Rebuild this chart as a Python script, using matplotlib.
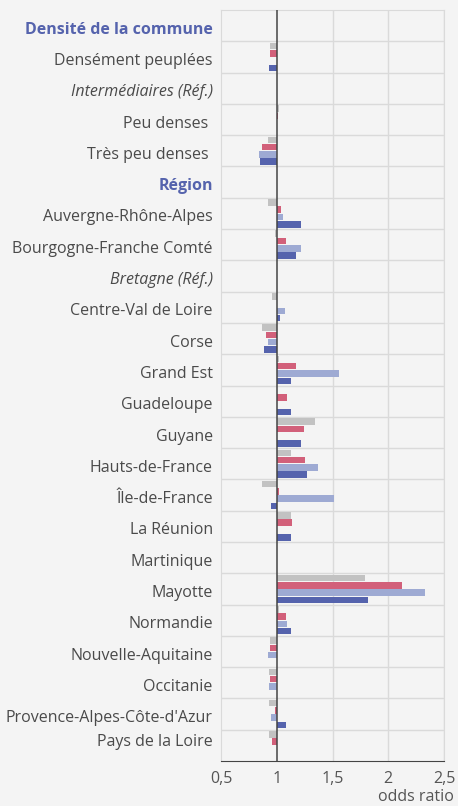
import matplotlib.pyplot as plt
import matplotlib.transforms as mtransforms
import numpy as np

# Catégories (de haut en bas)
categories = [
    "Densité de la commune", "Densément peuplées", "Intermédiaires (Réf.)",
    "Peu denses ", "Très peu denses ", "Région",
    "Auvergne-Rhône-Alpes", "Bourgogne-Franche Comté", "Bretagne (Réf.)",
    "Centre-Val de Loire", "Corse", "Grand Est", "Guadeloupe", "Guyane",
    "Hauts-de-France", "Île-de-France", "La Réunion", "Martinique", "Mayotte",
    "Normandie", "Nouvelle-Aquitaine", "Occitanie",
    "Provence-Alpes-Côte-d'Azur", "Pays de la Loire",
]
headers = ["Densité de la commune", "Région"]
references = ["Intermédiaires (Réf.)", "Bretagne (Réf.)"]

# odds ratios par série (None = pas de barre)
serie_gris = [None, 0.94, None, 1.02, 0.92, None,
              0.92, 0.98, None, 0.96, 0.87, 1.02, None, 1.34,
              1.13, 0.87, 1.13, None, 1.79,
              1.02, 0.94, 0.93, 0.93, 0.93]
serie_rouge = [None, 0.94, None, 1.01, 0.87, None,
               1.04, 1.08, None, None, 0.90, 1.17, 1.09, 1.24,
               1.25, 1.02, 1.14, None, 2.12,
               1.08, 0.94, 0.94, 0.98, 0.96]
serie_bleu_clair = [None, None, None, None, 0.84, None,
                    1.06, 1.22, None, 1.07, 0.92, 1.56, None, None,
                    1.37, 1.51, None, None, 2.33,
                    1.09, 0.92, 0.93, 0.95, None]
serie_bleu = [None, 0.93, None, None, 0.85, None,
              1.22, 1.17, None, 1.03, 0.89, 1.13, 1.13, 1.22,
              1.27, 0.95, 1.13, None, 1.82,
              1.13, None, None, 1.08, None]

series = [serie_gris, serie_rouge, serie_bleu_clair, serie_bleu]
couleurs = ["#c2c2c2", "#d2607a", "#9eaad3", "#5563ad"]

plt.rcParams['font.family'] = ['Open Sans', 'DejaVu Sans']
bg = "#f4f4f4"

fig = plt.figure(figsize=(4.58, 8.06), dpi=100, facecolor=bg)
ax = fig.add_axes([221 / 458, 45 / 806, 223 / 458, 751 / 806], facecolor=bg)

y = np.arange(len(categories))
pas = 0.233
hauteur = 0.21
for k, (vals, c) in enumerate(zip(series, couleurs)):
    for i, v in enumerate(vals):
        if v is None:
            continue
        ax.barh(i + (k - 1.5) * pas, v - 1, left=1, height=hauteur,
                color=c, linewidth=0, zorder=3)

ax.set_xlim(0.5, 2.5)
ax.set_ylim(len(categories) - 0.5, -0.5)

# grille
for b in np.arange(0.5, len(categories) - 0.5, 1):
    ax.axhline(b, color="#dadada", lw=1, zorder=1)
for xv in [1.5, 2, 2.5]:
    ax.axvline(xv, color="#dadada", lw=1, zorder=1)
ax.axvline(1, color="#444444", lw=1.1, zorder=4)

for s in ["left", "top", "right"]:
    ax.spines[s].set_color("#dadada")
ax.spines["bottom"].set_color("#444444")

ax.set_xticks([0.5, 1, 1.5, 2, 2.5])
ax.set_xticklabels(["0,5", "1", "1,5", "2", "2,5"])
ax.tick_params(axis="x", length=0, pad=7, labelsize=11.5, labelcolor="#555555")

ax.set_yticks(y)
ax.set_yticklabels(categories)
ax.tick_params(axis="y", length=0, pad=6, labelsize=11.5, labelcolor="#4a4a4a")
decal = mtransforms.ScaledTranslation(0, -1.5 / 72, fig.dpi_scale_trans)
for lab in ax.get_yticklabels():
    t = lab.get_text()
    if t in headers:
        lab.set_color("#5563ad")
        lab.set_fontweight("bold")
    elif t in references:
        lab.set_fontstyle("italic")
    if t == "Pays de la Loire":
        lab.set_transform(lab.get_transform()
                          + mtransforms.ScaledTranslation(0, 4 / 72, fig.dpi_scale_trans))
    else:
        lab.set_transform(lab.get_transform() + decal)

fig.text(454 / 458, 1 - 797 / 806, "odds ratio", ha="right", va="center",
         fontsize=11.5, color="#555555")

fig.savefig("out.png", dpi=100, facecolor=bg)
